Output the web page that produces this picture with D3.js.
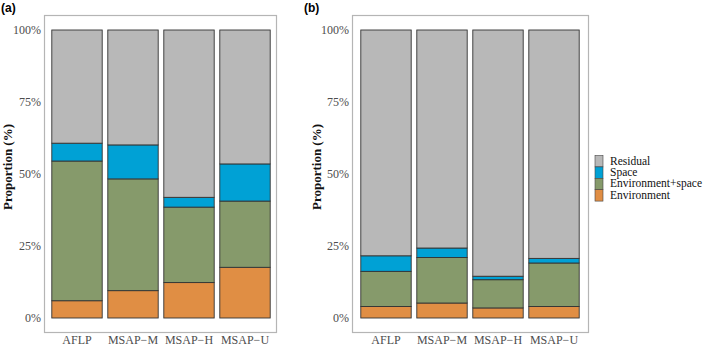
<!DOCTYPE html>
<html>
<head>
<meta charset="utf-8">
<script src="https://cdn.jsdelivr.net/npm/d3@7"></script>
<style>
  body { margin: 0; background: #fff; }
  svg { display: block; }
  text { font-family: "Liberation Serif", "Times New Roman", serif; }
</style>
</head>
<body>
<svg id="chart" width="709" height="346"></svg>
<script>
// data (percent, one value per component)
const markers = ['AFLP', 'MSAP\u2212M', 'MSAP\u2212H', 'MSAP\u2212U'];
const components = ['Environment', 'Environment+space', 'Space', 'Residual'];
const legendOrder = ['Residual', 'Space', 'Environment+space', 'Environment'];
const colors = ['#e08e44', '#869a6b', '#00a1d5', '#b8b8b8'];
const yTicks = [0, 25, 50, 75, 100];

// panel (a)
const envA      = [6.0, 9.5, 12.3, 17.6];
const envSpaceA = [48.5, 38.8, 26.2, 23.0];
const spaceA    = [6.2, 11.8, 3.4, 12.9];
// panel (b)
const envB      = [4.0, 5.2, 3.5, 4.0];
const envSpaceB = [12.2, 15.8, 9.8, 15.1];
const spaceB    = [5.4, 3.3, 1.2, 1.6];

function rows(env, es, sp) {
  return markers.map((m, i) => ({
    marker: m,
    'Environment': env[i],
    'Environment+space': es[i],
    'Space': sp[i],
    'Residual': 100 - env[i] - es[i] - sp[i]
  }));
}

const serif = '"Liberation Serif", "Times New Roman", serif';
const svg = d3.select('#chart');
const color = d3.scaleOrdinal().domain(components).range(colors);
const y = d3.scaleLinear().domain([0, 100]).range([318, 30]);

function panel(data, box, xRange, label, titleX) {
  const g = svg.append('g');
  g.append('rect')
    .attr('x', box[0] + 0.5).attr('y', 15.5)
    .attr('width', box[1] - box[0]).attr('height', 317)
    .attr('fill', 'none').attr('stroke', '#b5b5b5').attr('stroke-width', 1.2);

  const x = d3.scaleBand().domain(markers).range(xRange)
    .paddingInner(0.1).paddingOuter(0.05);

  const stacked = d3.stack().keys(components)(data);
  g.selectAll('g.layer').data(stacked).join('g')
    .attr('class', 'layer')
    .attr('fill', d => color(d.key))
    .selectAll('rect').data(d => d).join('rect')
      .attr('x', d => x(d.data.marker))
      .attr('y', d => y(d[1]))
      .attr('width', x.bandwidth())
      .attr('height', d => y(d[0]) - y(d[1]))
      .attr('stroke', '#333')
      .attr('stroke-width', 0.9);

  const yAxis = g.append('g')
    .attr('transform', `translate(${box[0]},0)`)
    .call(d3.axisLeft(y).tickValues(yTicks).tickFormat(d => d + '%').tickSize(0).tickPadding(3));
  yAxis.select('.domain').remove();
  yAxis.selectAll('text')
    .style('font-family', serif)
    .style('font-size', '12px').attr('fill', '#4d4d4d');

  const xAxis = g.append('g')
    .attr('transform', 'translate(0,332)')
    .call(d3.axisBottom(x).tickSize(0).tickPadding(3));
  xAxis.select('.domain').remove();
  xAxis.selectAll('text')
    .style('font-family', serif)
    .style('font-size', '12px').attr('fill', '#4d4d4d');

  g.append('text')
    .attr('transform', `translate(${titleX},167) rotate(-90)`)
    .attr('text-anchor', 'middle')
    .style('font-family', serif)
    .style('font-size', '13px').style('font-weight', 'bold')
    .attr('fill', '#111')
    .text('Proportion (%)');

  g.append('text')
    .attr('x', label[1]).attr('y', 12)
    .style('font-family', '"Liberation Sans", Arial, sans-serif')
    .style('font-size', '12px').style('font-weight', 'bold')
    .text(label[0]);
}

panel(rows(envA, envSpaceA, spaceA), [44, 276], [49, 273], ['(a)', 1], 11.5);
panel(rows(envB, envSpaceB, spaceB), [352, 588], [358, 582], ['(b)', 304], 320.5);

// legend
const legend = svg.append('g').attr('transform', 'translate(595,155.5)');
const item = legend.selectAll('g').data(legendOrder).join('g')
  .attr('transform', (d, i) => `translate(0,${i * 11.4})`);
item.append('rect')
  .attr('width', 8).attr('height', 11.4)
  .attr('fill', d => color(d))
  .attr('stroke', '#444').attr('stroke-width', 0.6);
item.append('text')
  .attr('x', 15).attr('y', 9)
  .style('font-family', serif)
  .style('font-size', '11.5px').attr('fill', '#111')
  .text(d => d);
</script>
</body>
</html>
